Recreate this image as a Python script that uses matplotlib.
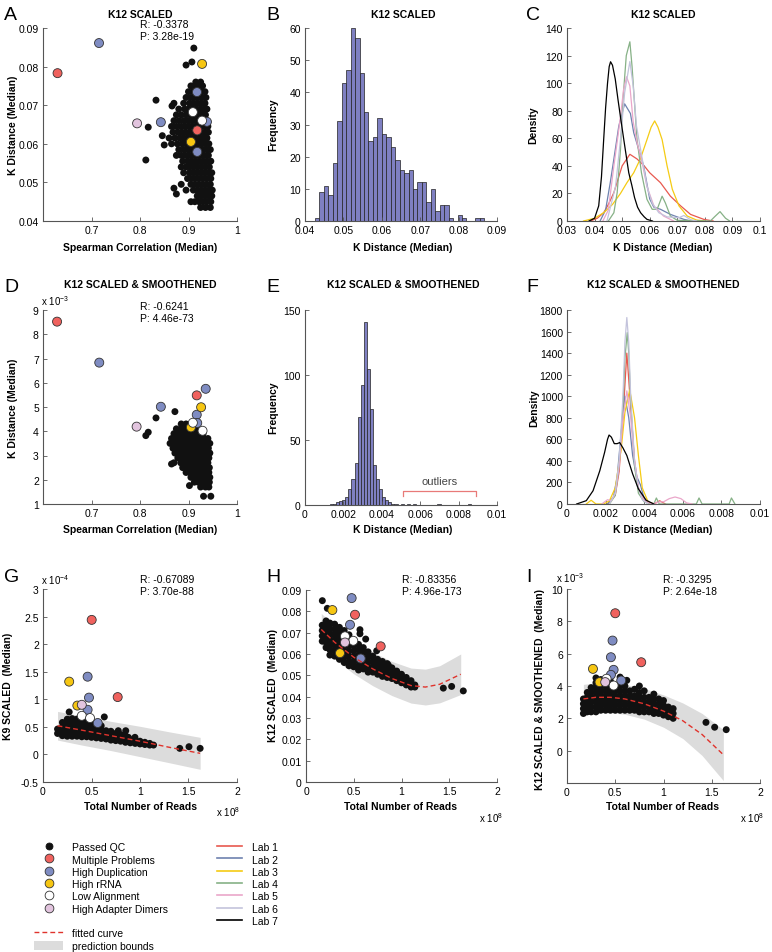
import numpy as np
import matplotlib
matplotlib.use('Agg')
import matplotlib.pyplot as plt
from matplotlib.lines import Line2D
from matplotlib.patches import Patch
from matplotlib.ticker import FuncFormatter

plt.rcParams['font.family'] = ['Liberation Sans', 'DejaVu Sans']
plt.rcParams['mathtext.fontset'] = 'custom'
plt.rcParams['mathtext.rm'] = 'Liberation Sans'
plt.rcParams['mathtext.it'] = 'Liberation Sans'
plt.rcParams['mathtext.bf'] = 'Liberation Sans:bold'

# ---------------- categories / labels ----------------
CAT_NAMES = ['Passed QC', 'Multiple Problems', 'High Duplication', 'High rRNA',
             'Low Alignment', 'High Adapter Dimers']
CAT_COLORS = ['#111111', '#F0625E', '#7F8CC2', '#F6C612', '#FFFFFF', '#E2C4DE']
LAB_NAMES = ['Lab 1', 'Lab 2', 'Lab 3', 'Lab 4', 'Lab 5', 'Lab 6', 'Lab 7']
LAB_COLORS = ['#E8594F', '#6E82AF', '#F5CB14', '#86B186', '#EAA7CA', '#C3C3DC', '#000000']
FIT_COLOR = '#E0332C'
BAND_COLOR = '#DCDCDC'
HIST_COLOR = '#7F80C2'

# ---------------- Panel A (Spearman vs K distance, scaled) ----------------
A_pass_rows = {
    0.0435: [0.925, 0.935, 0.945],
    0.0450: [0.905, 0.913, 0.922, 0.930, 0.938, 0.946],
    0.0465: [0.918, 0.926, 0.934, 0.942, 0.948],
    0.0480: [0.895, 0.910, 0.918, 0.926, 0.934, 0.942, 0.949],
    0.0495: [0.885, 0.905, 0.913, 0.921, 0.929, 0.937, 0.945],
    0.0510: [0.898, 0.906, 0.914, 0.922, 0.930, 0.938, 0.946],
    0.0525: [0.890, 0.902, 0.910, 0.918, 0.926, 0.934, 0.942, 0.948],
    0.0540: [0.885, 0.895, 0.903, 0.911, 0.919, 0.927, 0.935, 0.943],
    0.0555: [0.888, 0.898, 0.906, 0.914, 0.922, 0.930, 0.938, 0.946],
    0.0570: [0.875, 0.885, 0.893, 0.901, 0.909, 0.917, 0.925, 0.933, 0.941],
    0.0585: [0.880, 0.890, 0.898, 0.906, 0.914, 0.922, 0.930, 0.938, 0.945],
    0.0600: [0.865, 0.877, 0.887, 0.895, 0.903, 0.911, 0.919, 0.927, 0.935, 0.942],
    0.0615: [0.860, 0.872, 0.882, 0.890, 0.898, 0.906, 0.914, 0.922, 0.930, 0.938],
    0.0630: [0.868, 0.878, 0.886, 0.894, 0.902, 0.910, 0.926, 0.934, 0.941],
    0.0645: [0.865, 0.875, 0.885, 0.893, 0.901, 0.909, 0.917, 0.925, 0.933, 0.940],
    0.0660: [0.870, 0.880, 0.890, 0.898, 0.906, 0.914, 0.922, 0.930, 0.937],
    0.0675: [0.875, 0.885, 0.895, 0.903, 0.911, 0.919, 0.927, 0.935],
    0.0690: [0.880, 0.892, 0.900, 0.908, 0.916, 0.924, 0.932, 0.938],
    0.0705: [0.870, 0.890, 0.902, 0.910, 0.918, 0.926, 0.934],
    0.0720: [0.895, 0.905, 0.913, 0.921, 0.929, 0.936],
    0.0735: [0.900, 0.910, 0.918, 0.926, 0.934],
    0.0750: [0.905, 0.913, 0.921, 0.929],
    0.0760: [0.915, 0.925],
}
A_pass_extra_x = [0.911, 0.907, 0.895, 0.833, 0.817, 0.812, 0.846, 0.850, 0.866, 0.870, 0.875]
A_pass_extra_y = [0.0848, 0.0812, 0.0804, 0.0713, 0.0643, 0.0558, 0.0621, 0.0597, 0.0698, 0.0485, 0.0470]
A_flag_x = [0.630, 0.918, 0.7155, 0.843, 0.9175, 0.918, 0.938, 0.928, 0.905, 0.909, 0.928, 0.794]
A_flag_y = [0.0783, 0.0635, 0.0861, 0.0656, 0.0734, 0.0579, 0.0657, 0.0807, 0.0605, 0.0682, 0.0660, 0.0653]
A_flag_cat = [1, 1, 2, 2, 2, 2, 2, 3, 3, 4, 4, 5]

# ---------------- Panel B (histogram, scaled) ----------------
B_counts = [1, 9, 11, 8, 18, 31, 43, 47, 60, 57, 46, 34, 25, 26, 32, 27, 26, 23, 19, 16,
            15, 16, 10, 12, 12, 6, 10, 3, 5, 5, 1, 0, 2, 1, 0, 0, 1, 1]
B_start, B_width = 0.0426, 0.00116

# ---------------- Panel C (density per lab, scaled) ----------------
C_x = [
    [0.0385, 0.041, 0.0433, 0.045, 0.047, 0.050, 0.0528, 0.0554, 0.058, 0.060, 0.0639, 0.0675, 0.0712, 0.0748, 0.0796, 0.083],
    [0.042, 0.044, 0.0457, 0.047, 0.0488, 0.0509, 0.053, 0.0542, 0.056, 0.0578, 0.060, 0.0615, 0.0639, 0.0675, 0.0724, 0.075],
    [0.036, 0.040, 0.0433, 0.0465, 0.0494, 0.0518, 0.0542, 0.0566, 0.059, 0.0605, 0.0618, 0.063, 0.0645, 0.0663, 0.0682, 0.0706, 0.0736, 0.077, 0.080],
    [0.045, 0.047, 0.0482, 0.0494, 0.0503, 0.0515, 0.0528, 0.0536, 0.0544, 0.0554, 0.057, 0.059, 0.0609, 0.0627, 0.0645, 0.0657, 0.0675, 0.070, 0.082, 0.0835, 0.0855, 0.0875, 0.089],
    [0.043, 0.045, 0.047, 0.0485, 0.0494, 0.0505, 0.0516, 0.0528, 0.054, 0.0555, 0.057, 0.059, 0.0615, 0.065, 0.0687],
    [0.0445, 0.0476, 0.0494, 0.0509, 0.0528, 0.054, 0.0552, 0.0573, 0.059, 0.0609, 0.0633, 0.0663, 0.0706, 0.0724, 0.0748, 0.077],
    [0.038, 0.040, 0.0415, 0.0425, 0.0433, 0.0440, 0.0447, 0.0453, 0.0458, 0.0465, 0.0475, 0.0485, 0.0495, 0.0506, 0.0515, 0.0524, 0.0535, 0.0545, 0.0556, 0.0567, 0.058, 0.059, 0.061],
]
C_y = [
    [0, 2, 6, 12, 20.6, 40, 48.4, 45, 40, 35, 27.8, 18, 11, 4.8, 1.2, 0],
    [0, 8, 28, 45, 69, 85, 78, 64, 52, 40, 16, 10, 8.5, 4.8, 1.2, 0],
    [0, 2, 6, 12, 20, 28, 35, 45, 59, 68, 72.6, 68, 59, 40, 23, 11, 3.6, 0.7, 0],
    [0, 6, 20.6, 52, 88, 120, 130, 112, 88, 59, 35, 15.7, 8.5, 8.5, 18, 13, 3.6, 0.5, 0, 3, 6.8, 2, 0],
    [0, 8, 40, 62, 76, 95, 104.6, 98, 72, 56, 45, 25, 11, 3.6, 0],
    [0, 25, 59, 93, 115.7, 98, 69, 45, 25, 13, 6, 3, 2.4, 4, 1, 0],
    [0, 2, 11, 32, 59, 82, 100, 112, 115.5, 113, 103, 88, 74, 59, 47, 35, 26, 17, 10, 6, 3, 1.2, 0],
]

# ---------------- Panel D (Spearman vs K distance, smoothed; units 1e-3) ----------------
D_pass_rows = {
    4.3: [0.885, 0.895, 0.905],
    4.1: [0.875, 0.885, 0.893, 0.901, 0.915],
    3.9: [0.870, 0.880, 0.888, 0.896, 0.904, 0.912, 0.920, 0.930],
    3.7: [0.865, 0.875, 0.884, 0.892, 0.900, 0.908, 0.916, 0.924, 0.932, 0.940],
    3.5: [0.862, 0.872, 0.880, 0.888, 0.896, 0.904, 0.912, 0.920, 0.928, 0.936, 0.944],
    3.3: [0.868, 0.877, 0.885, 0.893, 0.901, 0.909, 0.917, 0.925, 0.933, 0.941],
    3.1: [0.872, 0.880, 0.888, 0.896, 0.904, 0.912, 0.920, 0.928, 0.936, 0.944],
    2.9: [0.878, 0.886, 0.894, 0.902, 0.910, 0.918, 0.926, 0.934, 0.942],
    2.7: [0.870, 0.884, 0.892, 0.900, 0.908, 0.916, 0.924, 0.932, 0.940],
    2.5: [0.888, 0.896, 0.904, 0.912, 0.920, 0.928, 0.936, 0.943],
    2.3: [0.895, 0.903, 0.911, 0.919, 0.927, 0.935, 0.942],
    2.1: [0.905, 0.913, 0.921, 0.929, 0.937, 0.944],
    1.9: [0.912, 0.920, 0.928, 0.936, 0.943],
    1.7: [0.925, 0.935, 0.942],
}
D_pass_extra_x = [0.872, 0.833, 0.817, 0.812, 0.902, 0.931, 0.946, 0.865]
D_pass_extra_y = [4.81, 4.55, 3.96, 3.82, 1.76, 1.32, 1.32, 2.65]
D_flag_x = [0.629, 0.917, 0.716, 0.843, 0.9355, 0.917, 0.918, 0.926, 0.905, 0.909, 0.929, 0.793]
D_flag_y = [8.52, 5.48, 6.83, 5.01, 5.75, 4.68, 4.34, 4.99, 4.16, 4.35, 4.02, 4.19]
D_flag_cat = [1, 1, 2, 2, 2, 2, 2, 3, 3, 4, 4, 5]

# ---------------- Panel E (histogram, smoothed) ----------------
E_counts = [0, 1, 1, 2, 3, 4, 6, 12, 20, 32, 68, 92, 141, 105, 74, 31, 20, 12, 6, 4,
            2, 1, 1, 0, 1, 0, 1, 0, 1, 0, 0, 0, 0, 0, 0, 0, 1, 0, 0, 0,
            0, 0, 0, 0, 0, 0, 1]
E_start, E_width = 0.00114, 0.00016

# ---------------- Panel F (density per lab, smoothed) ----------------
F_x = [
    [0.0021, 0.0025, 0.0027, 0.0029, 0.0031, 0.0033, 0.0035, 0.0037, 0.0040, 0.0045, 0.0048, 0.0051],
    [0.0021, 0.0024, 0.0026, 0.0028, 0.0030, 0.0032, 0.0034, 0.0036, 0.0038, 0.0040, 0.0043],
    [0.0010, 0.00125, 0.0015, 0.0019, 0.0022, 0.0025, 0.0028, 0.0030, 0.00325, 0.0035, 0.0037, 0.0039, 0.0042, 0.0045],
    [0.0022, 0.0025, 0.0027, 0.0029, 0.0030, 0.00312, 0.0032, 0.0033, 0.0035, 0.0037, 0.0040, 0.0043, 0.0045, 0.00463, 0.00478,
     0.0067, 0.00684, 0.0070, 0.0084, 0.00852, 0.0087],
    [0.0018, 0.0021, 0.0023, 0.0025, 0.0027, 0.0029, 0.0031, 0.0033, 0.0035, 0.0037, 0.0040, 0.0044, 0.0048, 0.0050, 0.0053,
     0.0056, 0.0059, 0.0062, 0.0065],
    [0.0022, 0.0025, 0.0027, 0.0029, 0.0030, 0.0031, 0.0032, 0.0033, 0.0035, 0.0037, 0.0039, 0.0042],
    [0.0005, 0.0010, 0.00135, 0.0017, 0.00195, 0.0021, 0.00218, 0.0023, 0.00245, 0.0026, 0.00273, 0.0029, 0.0031, 0.0034,
     0.0037, 0.0041, 0.0045],
]
F_y = [
    [0, 80, 300, 800, 1400, 900, 400, 150, 30, 0, 30, 0],
    [0, 60, 250, 650, 1000, 800, 450, 260, 180, 50, 0],
    [0, 35, 0, 0, 30, 150, 500, 850, 1060, 800, 450, 150, 20, 0],
    [0, 80, 350, 900, 1350, 1590, 1400, 950, 350, 100, 20, 0, 0, 56, 0, 0, 56, 0, 0, 56, 0],
    [0, 40, 30, 100, 350, 800, 1050, 800, 400, 150, 30, 0, 20, 20, 50, 65, 50, 10, 0],
    [0, 100, 400, 1000, 1500, 1730, 1500, 1000, 400, 150, 40, 0],
    [0, 31, 123, 309, 480, 600, 640, 620, 560, 560, 570, 520, 450, 280, 140, 35, 0],
]

# ---------------- Panel G (reads 1e8 vs K9 scaled 1e-4) ----------------
G_pass_cols = {
    0.15: [0.38, 0.46], 0.20: [0.34, 0.42, 0.50, 0.58], 0.25: [0.33, 0.41, 0.49, 0.57, 0.64],
    0.30: [0.33, 0.41, 0.49, 0.57, 0.65], 0.35: [0.33, 0.41, 0.49, 0.57, 0.64],
    0.40: [0.32, 0.40, 0.48, 0.56, 0.63], 0.45: [0.32, 0.40, 0.48, 0.56, 0.62],
    0.50: [0.31, 0.39, 0.47, 0.55, 0.60], 0.55: [0.30, 0.38, 0.46, 0.53],
    0.60: [0.29, 0.37, 0.45, 0.52], 0.65: [0.28, 0.35, 0.43], 0.70: [0.26, 0.34, 0.42],
    0.75: [0.25, 0.32, 0.38], 0.80: [0.24, 0.30, 0.36], 0.85: [0.22, 0.29, 0.34],
    0.90: [0.21, 0.27], 0.95: [0.20, 0.26], 1.00: [0.19, 0.24], 1.05: [0.18, 0.22],
    1.10: [0.17, 0.20], 1.14: [0.17],
}
G_pass_extra_x = [0.27, 0.632, 0.776, 0.853, 0.88, 0.948, 1.41, 1.505, 1.62]
G_pass_extra_y = [0.77, 0.68, 0.43, 0.43, 0.31, 0.31, 0.11, 0.14, 0.11]
G_flag_x = [0.502, 0.77, 0.46, 0.474, 0.46, 0.564, 0.27, 0.354, 0.40, 0.485, 0.40]
G_flag_y = [2.44, 1.04, 1.41, 1.03, 0.81, 0.57, 1.32, 0.886, 0.70, 0.66, 0.90]
G_flag_cat = [1, 1, 2, 2, 2, 2, 3, 3, 4, 4, 5]
G_fit_x = [0.15, 0.40, 0.70, 1.00, 1.30, 1.62]
G_fit_y = [0.52, 0.44, 0.34, 0.24, 0.13, 0.02]
G_up_y = [0.78, 0.70, 0.60, 0.51, 0.41, 0.31]
G_lo_y = [0.26, 0.17, 0.07, -0.04, -0.15, -0.27]

# ---------------- Panel H (reads 1e8 vs K12 scaled) ----------------
H_pass_cols = {
    0.17: [0.0735, 0.071, 0.0685, 0.066],
    0.21: [0.0755, 0.073, 0.0705, 0.068, 0.0655, 0.063],
    0.25: [0.0745, 0.072, 0.0695, 0.067, 0.0645, 0.062, 0.0595],
    0.30: [0.074, 0.0715, 0.069, 0.0665, 0.064, 0.0615, 0.059],
    0.35: [0.0725, 0.070, 0.0675, 0.065, 0.0625, 0.060, 0.0575],
    0.40: [0.071, 0.0685, 0.066, 0.0635, 0.061, 0.0585, 0.056],
    0.45: [0.069, 0.0665, 0.064, 0.0615, 0.059, 0.0565, 0.0545],
    0.50: [0.0665, 0.064, 0.0615, 0.059, 0.0565, 0.054],
    0.55: [0.0645, 0.062, 0.0595, 0.057, 0.0545, 0.0525],
    0.60: [0.063, 0.0605, 0.058, 0.0555, 0.053],
    0.65: [0.061, 0.0585, 0.056, 0.0535, 0.0515],
    0.70: [0.059, 0.0565, 0.054, 0.0515],
    0.75: [0.0575, 0.055, 0.0525, 0.0505],
    0.80: [0.0565, 0.054, 0.0515, 0.0495],
    0.85: [0.0555, 0.053, 0.0505, 0.049],
    0.90: [0.0535, 0.051, 0.0485],
    0.95: [0.052, 0.0495, 0.0475],
    1.00: [0.0505, 0.048, 0.0465],
    1.05: [0.049, 0.047, 0.0455],
    1.10: [0.0475, 0.0455, 0.0445],
    1.14: [0.0455, 0.0445],
}
H_pass_extra_x = [0.171, 0.223, 0.565, 0.565, 0.625, 0.74, 0.862, 1.438, 1.525, 1.647]
H_pass_extra_y = [0.085, 0.0814, 0.0714, 0.0695, 0.067, 0.0615, 0.0548, 0.044, 0.0448, 0.0427]
H_flag_x = [0.513, 0.782, 0.478, 0.461, 0.573, 0.276, 0.356, 0.408, 0.495, 0.408]
H_flag_y = [0.0784, 0.0636, 0.0862, 0.0737, 0.0579, 0.0806, 0.0604, 0.0683, 0.0662, 0.0654]
H_flag_cat = [1, 1, 2, 2, 2, 3, 3, 4, 4, 5]
H_fit_x = [0.16, 0.30, 0.50, 0.70, 0.90, 1.10, 1.25, 1.40, 1.62]
H_fit_y = [0.0715, 0.0655, 0.0585, 0.0530, 0.0485, 0.0452, 0.0445, 0.0458, 0.0505]
H_up_y = [0.0790, 0.0733, 0.0663, 0.0609, 0.0565, 0.0534, 0.0529, 0.0545, 0.0600]
H_lo_y = [0.0640, 0.0577, 0.0507, 0.0451, 0.0405, 0.0370, 0.0361, 0.0371, 0.0410]

# ---------------- Panel I (reads 1e8 vs K12 scaled & smoothed 1e-3) ----------------
I_pass_cols = {
    0.17: [2.3, 2.6, 2.9, 3.2], 0.21: [2.4, 2.7, 3.0, 3.3, 3.6],
    0.25: [2.4, 2.7, 3.0, 3.3, 3.6, 3.9], 0.30: [2.4, 2.7, 3.0, 3.3, 3.6, 3.9, 4.2],
    0.35: [2.5, 2.8, 3.1, 3.4, 3.7, 4.0, 4.4], 0.40: [2.5, 2.8, 3.1, 3.4, 3.7, 4.0],
    0.45: [2.5, 2.8, 3.1, 3.4, 3.7, 4.0, 4.3], 0.50: [2.5, 2.8, 3.1, 3.4, 3.7, 4.0],
    0.55: [2.5, 2.8, 3.1, 3.4, 3.7, 4.0], 0.60: [2.5, 2.8, 3.1, 3.4, 3.7, 4.0],
    0.65: [2.5, 2.8, 3.1, 3.4, 3.7], 0.70: [2.5, 2.8, 3.1, 3.4, 3.8],
    0.75: [2.4, 2.7, 3.0, 3.3, 3.6], 0.80: [2.4, 2.7, 3.0, 3.3, 3.7],
    0.85: [2.4, 2.7, 3.0, 3.3], 0.90: [2.3, 2.6, 2.9, 3.2, 3.5],
    0.95: [2.3, 2.6, 2.9, 3.2], 1.00: [2.2, 2.5, 2.8, 3.1],
    1.05: [2.1, 2.4, 2.7], 1.10: [2.0, 2.3, 2.6],
}
I_pass_extra_x = [0.30, 0.55, 0.62, 0.75, 1.44, 1.53, 1.65]
I_pass_extra_y = [4.5, 4.55, 4.35, 4.0, 1.75, 1.45, 1.3]
I_flag_x = [0.50, 0.769, 0.472, 0.455, 0.483, 0.455, 0.562, 0.269, 0.337, 0.41, 0.483, 0.396]
I_flag_y = [8.5, 5.47, 6.81, 5.78, 5.0, 4.69, 4.34, 5.06, 4.24, 4.45, 4.03, 4.24]
I_flag_cat = [1, 1, 2, 2, 2, 2, 2, 3, 3, 4, 4, 5]
I_fit_x = [0.17, 0.30, 0.45, 0.60, 0.80, 1.00, 1.20, 1.40, 1.62]
I_fit_y = [3.2, 3.3, 3.3, 3.2, 2.9, 2.45, 1.85, 1.0, -0.25]
I_up_y = [4.1, 4.2, 4.2, 4.1, 3.85, 3.45, 2.95, 2.3, 1.3]
I_lo_y = [2.25, 2.35, 2.35, 2.25, 1.95, 1.45, 0.75, -0.3, -1.85]

# ================= drawing =================
W, H = 772, 953
fig = plt.figure(figsize=(W / 100, H / 100), dpi=100)
fig.patch.set_facecolor('white')

FS = 7.5
AX_COLOR = '#555555'
S_BLACK = 25
S_FLAG = 42


def px_axes(l, t, r, b):
    return fig.add_axes([l / W, 1 - b / H, (r - l) / W, (b - t) / H])


def ftext(x, y, s, **kw):
    kw.setdefault('fontsize', FS)
    kw.setdefault('va', 'center')
    return fig.text(x / W, 1 - y / H, s, **kw)


fmt = FuncFormatter(lambda v, p: '%g' % round(v, 6))


def style(ax):
    for s in ['top', 'right']:
        ax.spines[s].set_visible(False)
    for s in ['left', 'bottom']:
        ax.spines[s].set_color(AX_COLOR)
        ax.spines[s].set_linewidth(0.8)
    ax.tick_params(direction='in', length=3, width=0.6, color=AX_COLOR,
                   labelsize=FS, pad=3)
    ax.xaxis.set_major_formatter(fmt)
    ax.yaxis.set_major_formatter(fmt)
    ax.set_facecolor('none')


def rows_xy(rows):
    xs, ys = [], []
    for y, xl in rows.items():
        xs += xl
        ys += [y] * len(xl)
    return xs, ys


def cols_xy(cols):
    xs, ys = [], []
    for x, yl in cols.items():
        ys += yl
        xs += [x] * len(yl)
    return xs, ys


def scatter_panel(ax, px, py, ex, ey, fx, fy, fc):
    ax.scatter(px + ex, py + ey, s=S_BLACK, c=CAT_COLORS[0], edgecolors='none', zorder=3)
    ax.scatter(fx, fy, s=S_FLAG, c=[CAT_COLORS[c] for c in fc], edgecolors='#333333',
               linewidths=0.6, zorder=4)


def band_fit(ax, x, y, lo, up):
    ax.fill_between(x, lo, up, color=BAND_COLOR, lw=0, zorder=1)
    ax.plot(x, y, ls=(0, (3.5, 2.2)), color=FIT_COLOR, lw=1.0, zorder=5)


# ---- A ----
ax = px_axes(43, 29, 237, 222)
style(ax)
x, y = rows_xy(A_pass_rows)
scatter_panel(ax, x, y, A_pass_extra_x, A_pass_extra_y, A_flag_x, A_flag_y, A_flag_cat)
ax.set_xlim(0.6, 1.0)
ax.set_ylim(0.04, 0.09)
ax.set_xticks([0.7, 0.8, 0.9, 1.0])
ax.set_yticks([0.04, 0.05, 0.06, 0.07, 0.08, 0.09])

# ---- B ----
ax = px_axes(305, 29, 497, 222)
style(ax)
edges = B_start + B_width * np.arange(len(B_counts))
ax.bar(edges, B_counts, width=B_width, align='edge', color=HIST_COLOR,
       edgecolor='#222222', linewidth=0.5)
ax.set_xlim(0.04, 0.09)
ax.set_ylim(0, 60)
ax.set_xticks([0.04, 0.05, 0.06, 0.07, 0.08, 0.09])
ax.set_yticks(range(0, 61, 10))

# ---- C ----
ax = px_axes(567, 29, 760, 222)
style(ax)
for i in range(7):
    ax.plot(C_x[i], C_y[i], color=LAB_COLORS[i], lw=0.9)
ax.set_xlim(0.03, 0.1)
ax.set_ylim(0, 140)
ax.set_xticks([0.03, 0.04, 0.05, 0.06, 0.07, 0.08, 0.09, 0.1])
ax.set_yticks(range(0, 141, 20))

# ---- D ----
ax = px_axes(43, 311, 237, 505)
style(ax)
x, y = rows_xy(D_pass_rows)
scatter_panel(ax, x, y, D_pass_extra_x, D_pass_extra_y, D_flag_x, D_flag_y, D_flag_cat)
ax.set_xlim(0.6, 1.0)
ax.set_ylim(1, 9)
ax.set_xticks([0.7, 0.8, 0.9, 1.0])
ax.set_yticks(range(1, 10))

# ---- E ----
ax = px_axes(305, 311, 497, 506)
style(ax)
edges = E_start + E_width * np.arange(len(E_counts))
ax.bar(edges, E_counts, width=E_width, align='edge', color=HIST_COLOR,
       edgecolor='#222222', linewidth=0.5)
ax.plot([0.0051, 0.0051, 0.0089, 0.0089], [7, 10.8, 10.8, 7], color='#E87A78', lw=0.9)
ax.text(0.0070, 14.5, 'outliers', ha='center', va='bottom', fontsize=8, color='#444444')
ax.set_xlim(0, 0.01)
ax.set_ylim(0, 150)
ax.set_xticks([0, 0.002, 0.004, 0.006, 0.008, 0.01])
ax.set_yticks([0, 50, 100, 150])

# ---- F ----
ax = px_axes(567, 311, 760, 505)
style(ax)
for i in range(7):
    ax.plot(F_x[i], F_y[i], color=LAB_COLORS[i], lw=0.9)
ax.set_xlim(0, 0.01)
ax.set_ylim(0, 1800)
ax.set_xticks([0, 0.002, 0.004, 0.006, 0.008, 0.01])
ax.set_yticks(range(0, 1801, 200))

# ---- G ----
ax = px_axes(43, 590, 237, 783)
style(ax)
band_fit(ax, G_fit_x, G_fit_y, G_lo_y, G_up_y)
x, y = cols_xy(G_pass_cols)
scatter_panel(ax, x, y, G_pass_extra_x, G_pass_extra_y, G_flag_x, G_flag_y, G_flag_cat)
ax.set_xlim(0, 2)
ax.set_ylim(-0.5, 3)
ax.set_xticks([0, 0.5, 1, 1.5, 2])
ax.set_yticks([-0.5, 0, 0.5, 1, 1.5, 2, 2.5, 3])

# ---- H ----
ax = px_axes(306, 591, 497, 783)
style(ax)
band_fit(ax, H_fit_x, H_fit_y, H_lo_y, H_up_y)
x, y = cols_xy(H_pass_cols)
scatter_panel(ax, x, y, H_pass_extra_x, H_pass_extra_y, H_flag_x, H_flag_y, H_flag_cat)
ax.set_xlim(0, 2)
ax.set_ylim(0, 0.09)
ax.set_xticks([0, 0.5, 1, 1.5, 2])
ax.set_yticks([0, 0.01, 0.02, 0.03, 0.04, 0.05, 0.06, 0.07, 0.08, 0.09])

# ---- I ----
ax = px_axes(567, 590, 760, 784)
style(ax)
band_fit(ax, I_fit_x, I_fit_y, I_lo_y, I_up_y)
x, y = cols_xy(I_pass_cols)
scatter_panel(ax, x, y, I_pass_extra_x, I_pass_extra_y, I_flag_x, I_flag_y, I_flag_cat)
ax.set_xlim(0, 2)
ax.set_ylim(-2, 10)
ax.set_xticks([0, 0.5, 1, 1.5, 2])
ax.set_yticks([0, 2, 4, 6, 8, 10])

# ---------------- texts ----------------
for lx, ly, L in [(4, 15, 'A'), (266, 15, 'B'), (526, 15, 'C'),
                  (4, 288, 'D'), (266, 288, 'E'), (526, 288, 'F'),
                  (4, 578, 'G'), (266, 578, 'H'), (526, 578, 'I')]:
    ftext(lx, ly, L, fontsize=14, ha='left')

for cx, cy, t in [(140, 15, 'K12 SCALED'), (403, 15, 'K12 SCALED'), (663, 15, 'K12 SCALED'),
                  (140, 285, 'K12 SCALED & SMOOTHENED'), (403, 285, 'K12 SCALED & SMOOTHENED'),
                  (663, 285, 'K12 SCALED & SMOOTHENED')]:
    ftext(cx, cy, t, ha='center', fontweight='bold')

for cx, cy, t in [(140, 248, 'Spearman Correlation (Median)'), (403, 248, 'K Distance (Median)'),
                  (663, 248, 'K Distance (Median)'), (140, 530, 'Spearman Correlation (Median)'),
                  (403, 530, 'K Distance (Median)'), (663, 530, 'K Distance (Median)'),
                  (140, 807, 'Total Number of Reads'), (401, 807, 'Total Number of Reads'),
                  (663, 807, 'Total Number of Reads')]:
    ftext(cx, cy, t, ha='center', fontweight='bold')

for cx, cy, t in [(13, 125, 'K Distance (Median)'), (273, 125, 'Frequency'), (533, 125, 'Density'),
                  (13, 408, 'K Distance (Median)'), (273, 408, 'Frequency'), (534, 408, 'Density'),
                  (8, 686, 'K9 SCALED  (Median)'), (273, 686, 'K12 SCALED  (Median)'),
                  (540, 690, 'K12 SCALED & SMOOTHENED  (Median)')]:
    ftext(cx, cy, t, ha='center', rotation=90, fontweight='bold')

for x0, y0, r, p in [(140, 25, 'R: -0.3378', 'P: 3.28e-19'), (140, 307, 'R: -0.6241', 'P: 4.46e-73'),
                     (140, 580, 'R: -0.67089', 'P: 3.70e-88'), (402, 580, 'R: -0.83356', 'P: 4.96e-173'),
                     (663, 580, 'R: -0.3295', 'P: 2.64e-18')]:
    ftext(x0, y0, r, ha='left')
    ftext(x0, y0 + 12, p, ha='left')

ftext(41, 301, r'x 10$^{-3}$', ha='left', fontsize=7)
ftext(41, 580, r'x 10$^{-4}$', ha='left', fontsize=7)
ftext(556, 578, r'x 10$^{-3}$', ha='left', fontsize=7)
ftext(216, 812, r'x 10$^{8}$', ha='left', fontsize=7)
ftext(479, 818, r'x 10$^{8}$', ha='left', fontsize=7)
ftext(740, 818, r'x 10$^{8}$', ha='left', fontsize=7)

# ---------------- legends ----------------
cat_handles = []
for i, n in enumerate(CAT_NAMES):
    cat_handles.append(Line2D([], [], marker='o', ls='none', markerfacecolor=CAT_COLORS[i],
                              markeredgecolor='#333333' if i else CAT_COLORS[i],
                              markersize=6.3 if i else 5.0, markeredgewidth=0.6, label=n))
cat_handles.append(Line2D([], [], ls='none', label=' '))
cat_handles.append(Line2D([], [], color=FIT_COLOR, ls=(0, (3.5, 2.2)), lw=1.0, label='fitted curve'))
cat_handles.append(Patch(facecolor=BAND_COLOR, edgecolor='none', label='prediction bounds'))
fig.legend(handles=cat_handles, loc='upper left', bbox_to_anchor=(34 / W, 1 - 843 / H),
           frameon=False, fontsize=FS, handlelength=2.8, handletextpad=0.85,
           labelspacing=0.2, borderpad=0, borderaxespad=0, handleheight=1.0)

lab_handles = [Line2D([], [], color=LAB_COLORS[i], lw=1.2, label=LAB_NAMES[i]) for i in range(7)]
fig.legend(handles=lab_handles, loc='upper left', bbox_to_anchor=(217 / W, 1 - 843 / H),
           frameon=False, fontsize=FS, handlelength=2.4, handletextpad=0.95,
           labelspacing=0.2, borderpad=0, borderaxespad=0, handleheight=1.0)

fig.savefig('out.png', dpi=100, facecolor='white')
